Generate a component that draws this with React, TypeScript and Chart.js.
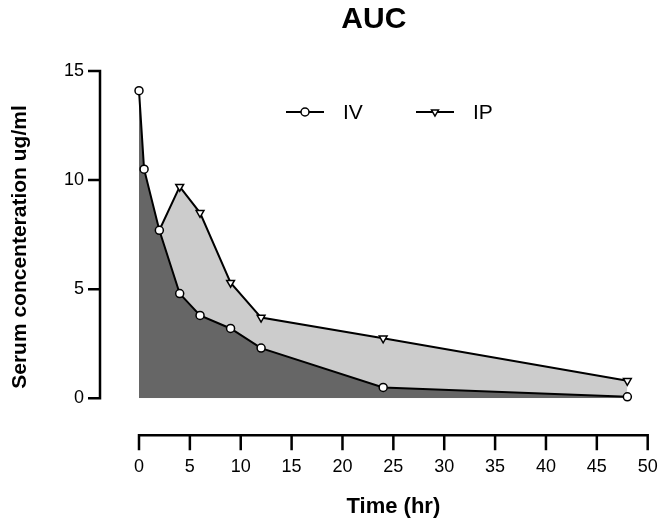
import { useEffect, useRef } from "react";
import { Chart, registerables } from "chart.js";
import { drawPoint } from "chart.js/helpers";

Chart.register(...registerables);

const FONT = '"Liberation Sans", Arial, Helvetica, sans-serif';

// IV dosing
const ivTime = [0, 0.5, 2, 4, 6, 9, 12, 24, 48];
const ivConc = [14.1, 10.5, 7.7, 4.8, 3.8, 3.2, 2.3, 0.5, 0.07];
// IP dosing
const ipTime = [2, 4, 6, 9, 12, 24, 48];
const ipConc = [7.7, 9.7, 8.5, 5.3, 3.7, 2.75, 0.8];

const xTickValues = [0, 5, 10, 15, 20, 25, 30, 35, 40, 45, 50];
const yTickValues = [0, 5, 10, 15];

const seriesNames = ["IV", "IP"];

// prism style axes, pulled away from the plot area
const offsetAxes = {
  id: "offsetAxes",
  afterDraw(chart: any) {
    const { ctx, chartArea, scales } = chart;
    const xs = scales.x;
    const ys = scales.y;
    const ax = chartArea.left - 39;
    const ay = chartArea.bottom + 37;
    ctx.save();
    ctx.strokeStyle = "#000";
    ctx.lineWidth = 2.5;
    ctx.beginPath();
    ctx.moveTo(ax, ys.getPixelForValue(ys.max) - 1.25);
    ctx.lineTo(ax, ys.getPixelForValue(ys.min) + 1.25);
    ys.ticks.forEach((t: any) => {
      const py = ys.getPixelForValue(t.value);
      ctx.moveTo(ax - 12, py);
      ctx.lineTo(ax, py);
    });
    ctx.moveTo(xs.getPixelForValue(xs.min) - 1.25, ay);
    ctx.lineTo(xs.getPixelForValue(xs.max) + 1.25, ay);
    xs.ticks.forEach((t: any) => {
      const px = xs.getPixelForValue(t.value);
      ctx.moveTo(px, ay);
      ctx.lineTo(px, ay + 15);
    });
    ctx.stroke();

    // main title, centred over the axes
    ctx.fillStyle = "#000";
    ctx.textAlign = "center";
    ctx.textBaseline = "middle";
    ctx.font = `bold 30px ${FONT}`;
    ctx.fillText("AUC", (ax + chartArea.right) / 2, 20);

    // y title
    ctx.translate(20, 247);
    ctx.rotate(-Math.PI / 2);
    ctx.font = `bold 21px ${FONT}`;
    ctx.fillText("Serum concenteration ug/ml", 0, 0);
    ctx.restore();
  },
};

const lineLegend = {
  id: "lineLegend",
  afterDatasetsDraw(chart: any) {
    const { ctx, chartArea } = chart;
    const y = chartArea.top + 41;
    ctx.save();
    chart.data.datasets.forEach((ds: any, i: number) => {
      const x0 = chartArea.left + 147 + i * 130;
      ctx.strokeStyle = "#000";
      ctx.lineWidth = 2;
      ctx.beginPath();
      ctx.moveTo(x0, y);
      ctx.lineTo(x0 + 38, y);
      ctx.stroke();
      ctx.fillStyle = "#fff";
      ctx.lineWidth = 1.5;
      drawPoint(
        ctx,
        {
          pointStyle: ds.pointStyle,
          rotation: ds.pointRotation || 0,
          radius: 4,
          borderWidth: 1.5,
        },
        x0 + 19,
        y
      );
      ctx.fillStyle = "#000";
      ctx.font = `21px ${FONT}`;
      ctx.textAlign = "left";
      ctx.textBaseline = "middle";
      ctx.fillText(ds.label, x0 + 57, y + 1);
    });
    ctx.restore();
  },
};

export default function App() {
  const canvasRef = useRef<HTMLCanvasElement>(null);

  useEffect(() => {
    if (!canvasRef.current) return;

    const chart = new Chart(canvasRef.current, {
      type: "line",
      data: {
        datasets: [
          {
            label: seriesNames[0],
            data: ivTime.map((t, i) => ({ x: t, y: ivConc[i] })),
            borderColor: "#000",
            borderWidth: 2,
            backgroundColor: "#666666",
            fill: "origin",
            pointStyle: "circle",
            pointRadius: 4,
            pointBorderWidth: 1.5,
            pointBackgroundColor: "#fff",
            pointBorderColor: "#000",
            tension: 0,
            clip: false,
          },
          {
            label: seriesNames[1],
            data: ipTime.map((t, i) => ({ x: t, y: ipConc[i] })),
            borderColor: "#000",
            borderWidth: 2,
            backgroundColor: "#cccccc",
            fill: "origin",
            pointStyle: "triangle",
            pointRotation: 180,
            pointRadius: (c: any) => (c.dataIndex === 0 ? 0 : 4.5),
            pointBorderWidth: 1.5,
            pointBackgroundColor: "#fff",
            pointBorderColor: "#000",
            tension: 0,
            clip: false,
          },
        ] as any,
      },
      options: {
        animation: false,
        responsive: true,
        maintainAspectRatio: false,
        layout: { padding: { top: 71, right: 16.3, left: 0, bottom: 0 } },
        plugins: {
          legend: { display: false },
          tooltip: { enabled: false },
          title: { display: false },
        },
        scales: {
          x: {
            type: "linear",
            min: 0,
            max: 50,
            afterBuildTicks: (s: any) => {
              s.ticks = xTickValues.map((v) => ({ value: v }));
            },
            afterFit: (s: any) => {
              s.height = 129.7;
              // the big label padding must not eat into the plot width
              s.paddingLeft = 0;
              s.paddingRight = 0;
            },
            grid: { display: false, drawTicks: false },
            border: { display: false },
            ticks: {
              color: "#000",
              padding: 58,
              maxRotation: 0,
              font: { family: FONT, size: 18 },
            },
            title: {
              display: true,
              text: "Time (hr)",
              color: "#000",
              font: { family: FONT, size: 22, weight: "bold" },
              padding: { top: 0, bottom: 8 },
            },
          },
          y: {
            type: "linear",
            min: 0,
            max: 15,
            afterBuildTicks: (s: any) => {
              s.ticks = yTickValues.map((v) => ({ value: v }));
            },
            afterFit: (s: any) => {
              s.width = 139;
            },
            grid: { display: false, drawTicks: false },
            border: { display: false },
            ticks: {
              color: "#000",
              padding: 55,
              font: { family: FONT, size: 18 },
            },
          },
        },
      },
      plugins: [offsetAxes, lineLegend],
    });

    return () => {
      chart.destroy();
    };
  }, []);

  return (
    <div
      style={{
        position: "fixed",
        left: 0,
        top: 0,
        width: 664,
        height: 528,
        background: "#fff",
      }}
    >
      <canvas ref={canvasRef} />
    </div>
  );
}
